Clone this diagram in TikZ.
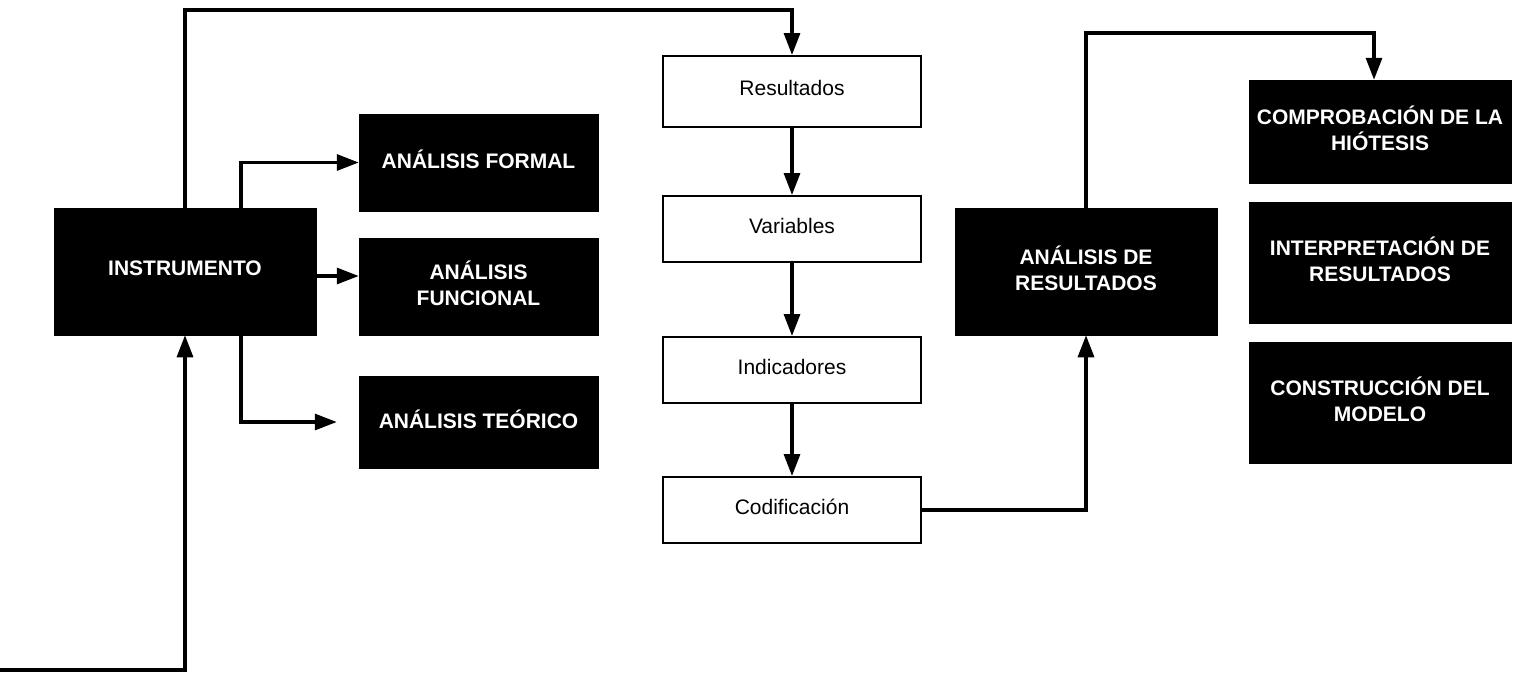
\documentclass[tikz,border=0pt]{standalone}
\usepackage{fontspec}
\setmainfont{Liberation Sans}
\usetikzlibrary{arrows.meta,calc}
\begin{document}
\begin{tikzpicture}[x=1pt,y=-1pt,
  blackbox/.style={fill=black,draw=black,line width=0.5pt,text=white,font=\fontsize{21}{26}\selectfont\bfseries,align=center,inner sep=0pt,text depth=6pt},
  whitebox/.style={fill=white,draw=black,line width=2pt,font=\fontsize{21}{26}\selectfont,align=center,inner sep=0pt,minimum width=258pt,text depth=7pt},
  conn/.style={line width=3.2pt,-{Triangle[length=22pt,width=16pt]}}
]
\useasboundingbox (0,0) rectangle (1522,675);
\node[blackbox,minimum width=262pt,minimum height=127pt] (instr) at (185,271.5) {INSTRUMENTO};
\node[blackbox,minimum width=239pt,minimum height=97pt] (formal) at (478.5,162.5) {ANÁLISIS FORMAL};
\node[blackbox,minimum width=239pt,minimum height=97pt] (func) at (478.5,286.5) {ANÁLISIS\\FUNCIONAL};
\node[blackbox,minimum width=239pt,minimum height=92pt] (teor) at (478.5,422) {ANÁLISIS TEÓRICO};
\node[whitebox,minimum height=71pt] (res) at (792,91.5) {Resultados};
\node[whitebox,minimum height=66pt] (var) at (792,229) {Variables};
\node[whitebox,minimum height=66pt] (ind) at (792,370) {Indicadores};
\node[whitebox,minimum height=66pt] (cod) at (792,510) {Codificación};
\node[blackbox,minimum width=262pt,minimum height=127pt] (adr) at (1086,271.5) {ANÁLISIS DE\\RESULTADOS};
\node[blackbox,minimum width=262pt,minimum height=103pt] (comp) at (1380,131.5) {COMPROBACIÓN DE LA\\HIÓTESIS};
\node[blackbox,minimum width=262pt,minimum height=121pt] (interp) at (1380,262.5) {INTERPRETACIÓN DE\\RESULTADOS};
\node[blackbox,minimum width=262pt,minimum height=121pt] (constr) at (1380,402.5) {CONSTRUCCIÓN DEL\\MODELO};
\coordinate (start) at (0,670);
\coordinate (teoin) at ([xshift=-22pt]teor.west);
\draw[conn] (instr.north) -- (instr.north |- 0,10) -| (res.north);
\draw[conn] ([xshift=56pt]instr.north) |- (formal.west);
\draw[conn] ([yshift=-4.5pt]instr.east) -- ([yshift=-4.5pt]instr.east -| func.west);
\draw[conn] ([xshift=56pt]instr.south) |- (teoin);
\draw[conn] (start) -| (instr.south);
\draw[conn] (res) -- (var);
\draw[conn] (var) -- (ind);
\draw[conn] (ind) -- (cod);
\draw[conn] (cod.east) -| (adr.south);
\draw[conn] (adr.north) -- (adr.north |- 0,33) -| ([xshift=-6pt]comp.north);
\end{tikzpicture}
\end{document}
